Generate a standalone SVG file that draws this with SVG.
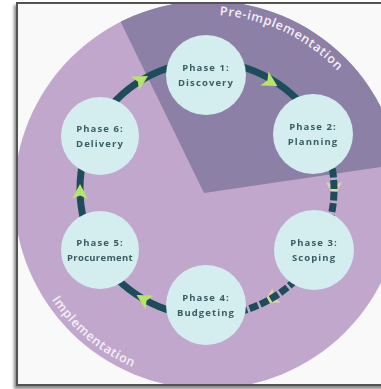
<svg xmlns="http://www.w3.org/2000/svg" width="381" height="389" viewBox="0 0 381 389">
  <defs>
    <style>
      .phase { fill: #d4eef0; }
      .label { font-family: "Open Sans", "Liberation Sans", sans-serif; font-weight: 700; font-size: 9.5px; letter-spacing: 1.1px; fill: #3a5d62; text-anchor: middle; }
      .link { fill: none; stroke: #1d4d5a; stroke-width: 7; stroke-linecap: butt; }
      .link.dashed { stroke-dasharray: 9 2.5; }
      .head { fill: #b8e36b; }
      .head.faint { fill: #e6e49a; opacity: 0.75; }
      .stage { font-family: "Open Sans", "Liberation Sans", sans-serif; font-weight: 600; font-size: 12.5px; letter-spacing: 0.7px; fill: #f5eff8; }
    </style>
    <clipPath id="frameClip">
      <rect x="18" y="4" width="370" height="380"/>
    </clipPath>
    <clipPath id="discClip">
      <circle cx="208" cy="195" r="194"/>
    </clipPath>
    <filter id="shadow" x="-10%" y="-10%" width="120%" height="120%">
      <feGaussianBlur stdDeviation="1.5"/>
    </filter>
    <filter id="soft" x="-50%" y="-50%" width="200%" height="200%">
      <feGaussianBlur stdDeviation="0.6"/>
    </filter>
    <path id="arrowHead" d="M8,0 L-7,-8 L-3.5,0 L-7,8 Z"/>
    <path id="preArc" d="M176.7,17.7 A178,178 0 0 1 386,195"/>
    <path id="implArc" d="M22.9,227.6 A188,188 0 0 0 240.6,380.1"/>
  </defs>

  <!-- page and frame -->
  <rect x="0" y="0" width="381" height="389" fill="#ffffff"/>
  <rect x="14" y="5" width="380" height="384" fill="#8a8a8a" filter="url(#shadow)"/>
  <rect x="17" y="3" width="372" height="382" fill="#f9f9fa" stroke="#545454" stroke-width="2"/>

  <!-- stage backdrop -->
  <g id="backdrop" clip-path="url(#frameClip)">
    <circle cx="208" cy="195" r="194" fill="#c2a7cd"/>
    <polygon points="204,193 110,0 381,0 381,167" fill="#8c80a6" clip-path="url(#discClip)"/>
    <text class="stage"><textPath href="#preArc" startOffset="43">Pre-implementation</textPath></text>
    <text class="stage"><textPath href="#implArc" startOffset="78">Implementation</textPath></text>
  </g>

  <!-- cycle connectors -->
  <g id="connectors">
    <path class="link" d="M207,62 A127,127 0 0 1 317,125.5"/>
    <g filter="url(#soft)">
      <use href="#arrowHead" class="head faint" transform="translate(334,189) rotate(90)"/>
      <use href="#arrowHead" class="head faint" transform="translate(270.5,299) rotate(150)"/>
    </g>
    <path class="link dashed" d="M317,125.5 A127,127 0 0 1 317,252.5"/>
    <path class="link dashed" d="M317,252.5 A127,127 0 0 1 207,316"/>
    <path class="link" d="M207,316 A127,127 0 0 1 97,252.5"/>
    <path class="link" d="M97,252.5 A127,127 0 0 1 97,125.5"/>
    <path class="link" d="M97,125.5 A127,127 0 0 1 207,62"/>
    <g filter="url(#soft)">
      <use href="#arrowHead" class="head" transform="translate(270.5,82) rotate(30)"/>
      <use href="#arrowHead" class="head" transform="translate(143.5,299) rotate(210)"/>
      <use href="#arrowHead" class="head" transform="translate(80,192) rotate(270)"/>
      <use href="#arrowHead" class="head" transform="translate(141,80) rotate(330)"/>
    </g>
  </g>

  <!-- phases -->
  <g id="phase1">
    <circle class="phase" cx="206" cy="75" r="40"/>
    <text class="label" x="206" y="71">Phase 1:</text>
    <text class="label" x="206" y="85.5">Discovery</text>
  </g>
  <g id="phase2">
    <circle class="phase" cx="313" cy="134" r="40"/>
    <text class="label" x="313" y="130">Phase 2:</text>
    <text class="label" x="313" y="144.5">Planning</text>
  </g>
  <g id="phase3">
    <circle class="phase" cx="314" cy="250" r="40"/>
    <text class="label" x="314" y="246">Phase 3:</text>
    <text class="label" x="314" y="260.5">Scoping</text>
  </g>
  <g id="phase4">
    <circle class="phase" cx="206" cy="305" r="40"/>
    <text class="label" x="206" y="301">Phase 4:</text>
    <text class="label" x="206" y="315.5">Budgeting</text>
  </g>
  <g id="phase5">
    <circle class="phase" cx="100" cy="250" r="39"/>
    <text class="label" x="100" y="246">Phase 5:</text>
    <text class="label" x="100" y="260.5" style="letter-spacing:0.3px">Procurement</text>
  </g>
  <g id="phase6">
    <circle class="phase" cx="100" cy="136" r="39"/>
    <text class="label" x="100" y="132">Phase 6:</text>
    <text class="label" x="100" y="146.5">Delivery</text>
  </g>
</svg>
